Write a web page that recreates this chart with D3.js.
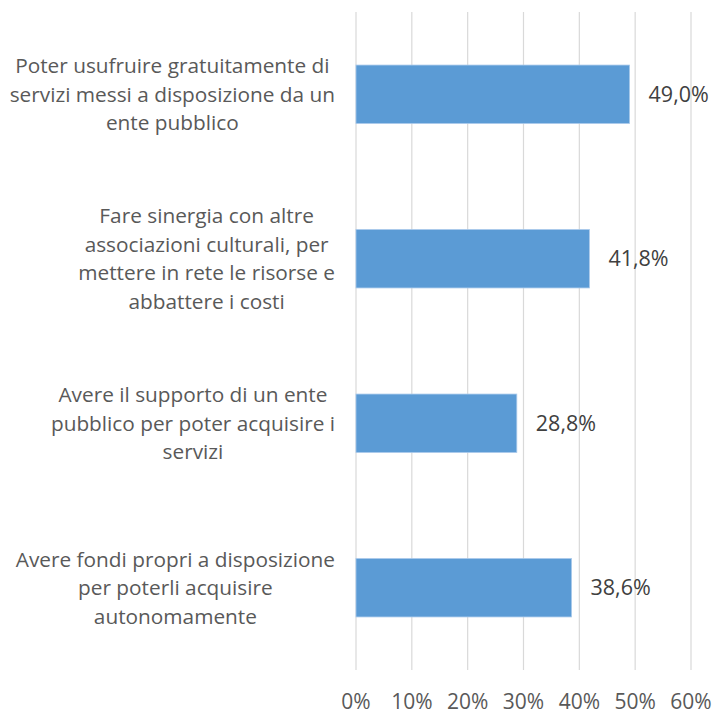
<!DOCTYPE html>
<html>
<head>
<meta charset="utf-8">
<script src="https://cdn.jsdelivr.net/npm/d3@7"></script>
<style>
  body { margin: 0; background: #fff; }
  svg { display: block; font-family: "Open Sans", sans-serif; }
</style>
</head>
<body>
<div id="chart"></div>
<script>
// categories (top to bottom), each already split in the lines used by the original
var categories = [
  ["Poter usufruire gratuitamente di", "servizi messi a disposizione da un", "ente pubblico"],
  ["Fare sinergia con altre", "associazioni culturali, per", "mettere in rete le risorse e", "abbattere i costi"],
  ["Avere il supporto di un ente", "pubblico per poter acquisire i", "servizi"],
  ["Avere fondi propri a disposizione", "per poterli acquisire", "autonomamente"]
];
var values = [49.0, 41.8, 28.8, 38.6];
var ticks = [0, 10, 20, 30, 40, 50, 60];

var width = 713, height = 711;
var margin = { top: 12, right: 22, bottom: 41, left: 356 };

var svg = d3.select('#chart')
  .append('svg')
  .attr('width', width)
  .attr('height', height);

var x = d3.scaleLinear()
  .domain([0, 60])
  .range([margin.left, width - margin.right]);

var y = d3.scaleBand()
  .domain(d3.range(categories.length))
  .range([margin.top, height - margin.bottom])
  .paddingInner(0.645)
  .paddingOuter(0.3225);

// vertical gridlines
svg.append('g')
  .selectAll('line')
  .data(ticks)
  .enter()
  .append('line')
  .attr('x1', function (d) { return x(d); })
  .attr('x2', function (d) { return x(d); })
  .attr('y1', margin.top)
  .attr('y2', height - margin.bottom)
  .attr('stroke', '#d9d9d9')
  .attr('stroke-width', 1.2);

// x axis labels
svg.append('g')
  .selectAll('text')
  .data(ticks)
  .enter()
  .append('text')
  .attr('x', function (d) { return x(d); })
  .attr('y', 709)
  .attr('text-anchor', 'middle')
  .attr('font-size', '21px')
  .attr('fill', '#595959')
  .text(function (d) { return d + '%'; });

// bars
svg.append('g')
  .selectAll('rect')
  .data(values)
  .enter()
  .append('rect')
  .attr('x', x(0))
  .attr('y', function (d, i) { return y(i); })
  .attr('width', function (d) { return x(d) - x(0); })
  .attr('height', y.bandwidth())
  .attr('fill', '#5b9bd5')
  .attr('stroke', '#a9c9ea')
  .attr('stroke-width', 0.8);

// value labels
svg.append('g')
  .selectAll('text')
  .data(values)
  .enter()
  .append('text')
  .attr('x', function (d) { return x(d) + 19; })
  .attr('y', function (d, i) { return y(i) + y.bandwidth() / 2; })
  .attr('dy', '0.35em')
  .attr('font-size', '21.5px')
  .attr('fill', '#404040')
  .text(function (d) { return d.toFixed(1).replace('.', ',') + '%'; });

// category labels, wrapped and centred on their own block, right edge near the axis
var lineH = 28.5;
var labels = svg.append('g')
  .selectAll('text')
  .data(categories)
  .enter()
  .append('text')
  .attr('font-size', '20.8px')
  .attr('fill', '#595959')
  .attr('text-anchor', 'middle');

labels.each(function (lines, i) {
  var t = d3.select(this);
  var cy = y(i) + y.bandwidth() / 2;
  var top = cy - (lines.length - 1) * lineH / 2;
  lines.forEach(function (l, k) {
    t.append('tspan')
      .attr('y', top + k * lineH)
      .attr('dy', '0.35em')
      .text(l);
  });
  var w = d3.max(t.selectAll('tspan').nodes(), function (n) { return n.getComputedTextLength(); });
  t.selectAll('tspan').attr('x', 335 - w / 2);
});
</script>
</body>
</html>
